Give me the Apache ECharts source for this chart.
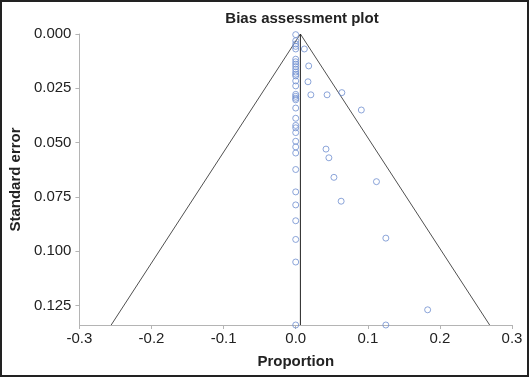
<!DOCTYPE html>
<html>
<head>
<meta charset="utf-8">
<script src="https://cdn.jsdelivr.net/npm/echarts@6/dist/echarts.min.js"></script>
<style>
  html, body { margin: 0; padding: 0; background: #fff; }
  #main { width: 529px; height: 377px; }
</style>
</head>
<body>
<div id="main"></div>
<script>
// studies with proportion 0 (left column), standard error only
const zeroSE = [0.0003, 0.0031, 0.0046, 0.0057, 0.0069, 0.0116, 0.0128, 0.0139, 0.015, 0.0162,
  0.0175, 0.0185, 0.0193, 0.0216, 0.0239, 0.0278, 0.0287, 0.0296, 0.0303, 0.0341,
  0.0388, 0.0421, 0.0432, 0.0454, 0.0494, 0.052, 0.0548, 0.0624, 0.0727, 0.0787,
  0.086, 0.0946, 0.105, 0.134];

// other studies
const otherP = [0.012, 0.018, 0.017, 0.021, 0.0435, 0.064, 0.091, 0.042, 0.046, 0.053, 0.112, 0.063, 0.125, 0.183, 0.125];
const otherSE = [0.0069, 0.0147, 0.022, 0.028, 0.028, 0.027, 0.035, 0.053, 0.057, 0.066, 0.068, 0.077, 0.094, 0.127, 0.134];

// funnel (pseudo 95% limits) and pooled estimate
const funnelP = [-0.256, 0.0065, 0.269];
const funnelSE = [0.134, 0, 0.134];
const pooledP = [0.0065, 0.0065];
const pooledSE = [0, 0.134];

const xTicks = [-0.3, -0.2, -0.1, 0.0, 0.1, 0.2, 0.3];

let points = zeroSE.map(se => [0, se]).concat(otherP.map((p, i) => [p, otherSE[i]]));

let font = "'Liberation Sans', Arial, sans-serif";

let option = {
  backgroundColor: '#fff',
  animation: false,
  title: {
    text: 'Bias assessment plot',
    left: 297,
    top: 6,
    textAlign: 'center',
    textStyle: { fontFamily: font, fontSize: 15, fontWeight: 'bold', color: '#222' }
  },
  graphic: [{
    type: 'rect',
    shape: { x: 1, y: 1, width: 527, height: 375 },
    style: { fill: 'none', stroke: '#222', lineWidth: 2 },
    silent: true
  }],
  grid: { left: 76, right: 17, top: 34, bottom: 52 },
  xAxis: {
    type: 'value',
    min: xTicks[0],
    max: xTicks[xTicks.length - 1],
    interval: 0.1,
    name: 'Proportion',
    nameLocation: 'middle',
    nameGap: 29,
    nameTextStyle: { fontFamily: font, fontSize: 15, fontWeight: 'bold', color: '#222' },
    axisLine: { onZero: false, lineStyle: { color: '#b4b4b4', width: 1 } },
    axisTick: { length: 4, lineStyle: { color: '#b4b4b4' } },
    axisLabel: {
      margin: 6, fontFamily: font, fontSize: 15, color: '#222',
      formatter: v => v.toFixed(1)
    },
    splitLine: { show: false }
  },
  yAxis: {
    type: 'value',
    inverse: true,
    min: 0,
    max: 0.134,
    interval: 0.025,
    name: 'Standard error',
    nameLocation: 'middle',
    nameGap: 53,
    nameTextStyle: { fontFamily: font, fontSize: 15, fontWeight: 'bold', color: '#222' },
    axisLine: { onZero: false, lineStyle: { color: '#b4b4b4', width: 1 } },
    axisTick: { length: 4, lineStyle: { color: '#b4b4b4' } },
    axisLabel: {
      margin: 8, fontFamily: font, fontSize: 15, color: '#222',
      showMaxLabel: false,
      formatter: v => v.toFixed(3)
    },
    splitLine: { show: false }
  },
  series: [
    {
      type: 'line',
      data: funnelP.map((p, i) => [p, funnelSE[i]]),
      symbol: 'none',
      lineStyle: { color: '#505050', width: 1 },
      z: 2
    },
    {
      type: 'line',
      data: pooledP.map((p, i) => [p, pooledSE[i]]),
      symbol: 'none',
      lineStyle: { color: '#222', width: 1 },
      z: 2
    },
    {
      type: 'scatter',
      data: points,
      symbol: 'circle',
      symbolSize: 6,
      itemStyle: { color: 'rgba(255,255,255,0)', borderColor: '#6f8fd0', borderWidth: 1 },
      z: 3
    }
  ]
};

let chart = echarts.init(document.getElementById('main'));
chart.setOption(option);
</script>
</body>
</html>
